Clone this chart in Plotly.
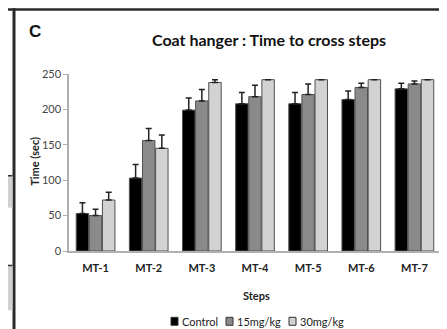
import plotly.graph_objects as go

steps = ["MT-1", "MT-2", "MT-3", "MT-4", "MT-5", "MT-6", "MT-7"]
control = [53, 103, 199, 208, 208, 214, 229]
control_err = [15, 19, 17, 16, 16, 12, 8]
mg15 = [50, 156, 212, 218, 221, 231, 236]
mg15_err = [9, 17, 16, 16, 15, 6, 4]
mg30 = [72, 145, 238, 242, 242, 242, 242]
mg30_err = [11, 19, 4, 0, 0, 0, 0]
y_ticks = [0, 50, 100, 150, 200, 250]
series_names = ["Control", "15mg/kg", "30mg/kg"]
series_colors = ["#000000", "#8a8a8a", "#d2d2d2"]

W, H = 447, 329
L, R, T, B = 61, 433, 66, 243.5

def px(x):
    return (x - L) / (R - L)

def py(y):
    return (B - y) / (B - T)

fig = go.Figure()
for name, vals, errs, col in zip(series_names, [control, mg15, mg30],
                                 [control_err, mg15_err, mg30_err], series_colors):
    fig.add_trace(go.Bar(
        x=steps, y=vals, name=name,
        marker=dict(color=col, line=dict(color="#505050", width=1)),
        error_y=dict(type="data", array=errs, symmetric=False, arrayminus=[0]*len(errs),
                     color="#222222", thickness=1.5, width=3),
    ))

shapes = [
    dict(type="rect", xref="paper", yref="paper", x0=px(0), x1=px(W), y0=py(2.5), y1=py(0),
         fillcolor="#2a2a2a", line=dict(width=0)),
    dict(type="rect", xref="paper", yref="paper", x0=px(4.5), x1=px(7.5), y0=py(W), y1=py(0),
         fillcolor="#2a2a2a", line=dict(width=0)),
    dict(type="line", xref="paper", yref="paper", x0=px(444.5), x1=px(444.5), y0=py(H), y1=py(2),
         line=dict(color="#c8c8c8", width=1)),
    dict(type="rect", xref="paper", yref="paper", x0=px(0), x1=px(4.5), y0=py(200), y1=py(168),
         fillcolor="#d0d0d0", line=dict(width=0)),
    dict(type="rect", xref="paper", yref="paper", x0=px(0), x1=px(4.5), y0=py(303), y1=py(258),
         fillcolor="#d0d0d0", line=dict(width=0)),
    dict(type="line", xref="paper", yref="paper", x0=px(0), x1=px(4.5), y0=py(168), y1=py(168),
         line=dict(color="#333333", width=1.5)),
    dict(type="line", xref="paper", yref="paper", x0=px(0), x1=px(4.5), y0=py(258), y1=py(258),
         line=dict(color="#333333", width=1.5)),
]

annotations = [
    dict(text="<b>C</b>", xref="paper", yref="paper", x=px(26.5), y=py(23),
         xanchor="center", yanchor="middle",
         showarrow=False, font=dict(size=17, color="#111111", family="Liberation Sans")),
    dict(text="Coat hanger : Time to cross steps", xref="paper", yref="paper",
         x=px(261), y=py(31), xanchor="center", yanchor="middle", showarrow=False,
         font=dict(size=16, color="#111111", family="Lato", weight="bold")),
    dict(text="Steps", xref="paper", yref="paper", x=px(248), y=py(288),
         xanchor="center", yanchor="middle",
         showarrow=False, font=dict(size=11, color="#222222", family="Lato", weight="bold")),
    dict(text="Time (sec)", xref="paper", yref="paper", x=px(27), y=py(154), textangle=-90,
         xanchor="center", yanchor="middle",
         showarrow=False, font=dict(size=11, color="#222222", family="Lato", weight="bold")),
]

# compact legend (square + label), as in the reference
leg_sq_x = [163, 218, 281]
leg_y = 314
for name, col, sx in zip(series_names, series_colors, leg_sq_x):
    shapes.append(dict(type="rect", xref="paper", yref="paper", x0=px(sx), x1=px(sx + 7),
                       y0=py(leg_y + 4), y1=py(leg_y - 4), fillcolor=col,
                       line=dict(color="#333333", width=1)))
    annotations.append(dict(text=name, xref="paper", yref="paper", x=px(sx + 8.5), y=py(leg_y),
                            xanchor="left", yanchor="middle", showarrow=False,
                            font=dict(size=11, color="#222222", family="Lato")))

fig.update_layout(
    width=W, height=H,
    margin=dict(l=L, r=W - R, t=T, b=H - B),
    paper_bgcolor="white", plot_bgcolor="white",
    barmode="group", bargap=0.26, bargroupgap=0.05,
    showlegend=False,
    shapes=shapes, annotations=annotations,
    font=dict(family="Lato", color="#333333"),
)
fig.update_xaxes(showline=True, linecolor="#b0b0b0", linewidth=1.5, ticks="",
                 ticklabelstandoff=6,
                 tickfont=dict(size=11, color="#222222", family="Lato", weight="bold"),
                 showgrid=False, zeroline=False)
fig.update_yaxes(range=[0, 250], tickvals=y_ticks, showline=True, linecolor="#b0b0b0", linewidth=1.5,
                 ticks="outside", ticklen=4, tickcolor="#b0b0b0", showgrid=False, zeroline=False,
                 tickfont=dict(size=11, color="#444444", family="Lato"))

fig.write_html("out.html")
